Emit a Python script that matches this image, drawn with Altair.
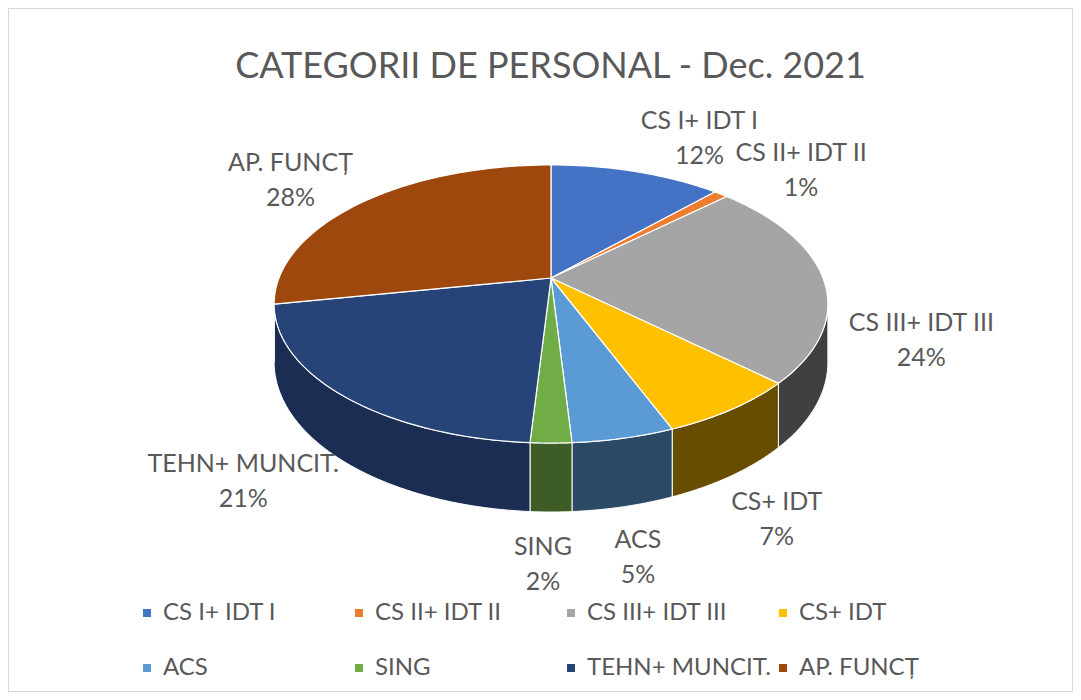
import math
import altair as alt
import pandas as pd

CATEGORIES = ["CS I+ IDT I", "CS II+ IDT II", "CS III+ IDT III", "CS+ IDT",
              "ACS", "SING", "TEHN+ MUNCIT.", "AP. FUNCȚ"]
PERCENTS = [12, 1, 24, 7, 5, 2, 21, 28]
TOP_COLORS = ["#4472C4", "#ED7D31", "#A5A5A5", "#FFC000",
              "#5B9BD5", "#70AD47", "#264478", "#9E480E"]
SIDE_COLORS = ["#2a4a80", "#8a4a1c", "#404040", "#664d00",
               "#2c4a66", "#3d5c26", "#1b2d52", "#5e2b08"]
TITLE = "CATEGORII DE PERSONAL - Dec. 2021"

# geometry of the drawing (chart coordinates, pixels)
W, H = 1065, 684
AX, AY = 543.0, 270.0
RH, RV = 272.0, 134.2
K = 0.187
D = 56.0
N = 60
L = 1.06
T1 = math.acos(-K)
T2 = 2 * math.pi - T1
FONT = "Lato, sans-serif"
TXT = "#595959"

df = pd.DataFrame({"cat": CATEGORIES, "pct": PERCENTS,
                   "idx": list(range(len(CATEGORIES)))})

xs = alt.Scale(domain=[0, W], nice=False, zero=False)
ys = alt.Scale(domain=[0, H], nice=False, zero=False, reverse=True)

base = alt.Chart(df).transform_joinaggregate(
    total="sum(pct)"
).transform_window(
    cum="sum(pct)", sort=[alt.SortField("idx", order="ascending")]
).transform_calculate(
    a0="2*PI*(datum.cum - datum.pct)/datum.total",
    a1="2*PI*datum.cum/datum.total",
)
S = f"1/(1 + {K}*cos(datum.th))"

legend = alt.Legend(
    orient="none", legendX=127, legendY=593, direction="horizontal",
    columns=4, title=None, symbolType="square", symbolSize=64,
    labelFontSize=24, labelFont=FONT, labelColor=TXT, labelLimit=400,
    columnPadding=0, rowPadding=31, gridAlign="all", labelOffset=4,
    symbolStrokeWidth=0, padding=0,
)

top = base.transform_calculate(
    k=f"sequence(-1, {N + 1})"
).transform_flatten(["k"]).transform_calculate(
    th=f"datum.a0 + (datum.a1 - datum.a0)*max(datum.k, 0)/{N}",
).transform_calculate(
    s=S,
).transform_calculate(
    px=f"datum.k < 0 ? {AX} : {AX} + {RH}*sin(datum.th)*datum.s",
    py=f"datum.k < 0 ? {AY} : {AY} - {RV}*cos(datum.th)*datum.s",
).mark_line(
    filled=True, interpolate="linear-closed", stroke="white",
    strokeWidth=1.2, strokeJoin="round",
).encode(
    x=alt.X("px:Q", scale=xs, axis=None),
    y=alt.Y("py:Q", scale=ys, axis=None),
    color=alt.Color("cat:N", scale=alt.Scale(domain=CATEGORIES, range=TOP_COLORS),
                    legend=legend),
    order=alt.Order("k:Q"),
    detail="cat:N",
)

side = base.transform_calculate(
    lo=f"max(datum.a0, {T1})",
    hi=f"min(datum.a1, {T2})",
).transform_filter(
    "datum.hi > datum.lo"
).transform_calculate(
    k=f"sequence(0, {2 * N + 2})"
).transform_flatten(["k"]).transform_calculate(
    u=f"datum.k <= {N} ? datum.k/{N} : ({2 * N + 1} - datum.k)/{N}",
).transform_calculate(
    th="datum.lo + (datum.hi - datum.lo)*datum.u",
).transform_calculate(
    s=S,
).transform_calculate(
    px=f"{AX} + {RH}*sin(datum.th)*datum.s",
    py=f"{AY} - {RV}*cos(datum.th)*datum.s + (datum.k > {N} ? {D}*datum.s : 0)",
).mark_line(
    filled=True, interpolate="linear-closed", stroke="white",
    strokeWidth=1, strokeJoin="round",
).encode(
    x=alt.X("px:Q", scale=xs, axis=None),
    y=alt.Y("py:Q", scale=ys, axis=None),
    color=alt.Color("cat:N", scale=alt.Scale(domain=CATEGORIES, range=SIDE_COLORS),
                    legend=None),
    order=alt.Order("k:Q"),
    detail="cat:N",
)

labels = base.transform_calculate(
    th="(datum.a0 + datum.a1)/2",
).transform_calculate(
    s=S,
    sn="sin(datum.th)",
    cs="cos(datum.th)",
    hw="length(datum.cat)*6",
).transform_calculate(
    sg="abs(datum.sn) < 0.15 ? 0 : (datum.sn > 0 ? 1 : -1)",
).transform_calculate(
    lx=f"{AX - 8} + {RH * L}*datum.sn*datum.s + datum.sg*datum.hw",
    ly=f"{AY - 11} - {RV * L}*datum.cs*datum.s + (datum.cs < 0.2 ? {D}*datum.s*(datum.sn < -0.5 ? 0.7 : 1) : 0) - datum.cs*36",
    lbl="datum.cat + '|' + datum.pct + '%'",
).mark_text(
    font=FONT, fontSize=25, color=TXT, lineBreak="|", lineHeight=35,
    baseline="middle", align="center",
).encode(
    x=alt.X("lx:Q", scale=xs, axis=None),
    y=alt.Y("ly:Q", scale=ys, axis=None),
    text="lbl:N",
)

chart = alt.layer(side, top, labels).resolve_scale(
    color="independent"
).properties(
    width=W, height=H, padding=0,
    title=alt.TitleParams(TITLE, orient="none", anchor="middle", frame="group",
                          dx=W / 2 + 10, dy=42, baseline="top", fontSize=36, font=FONT,
                          fontWeight="normal", color=TXT),
).configure_view(stroke="#d9d9d9", strokeWidth=2)

chart.save("out.html", embed_options={"renderer": "svg", "actions": False})
